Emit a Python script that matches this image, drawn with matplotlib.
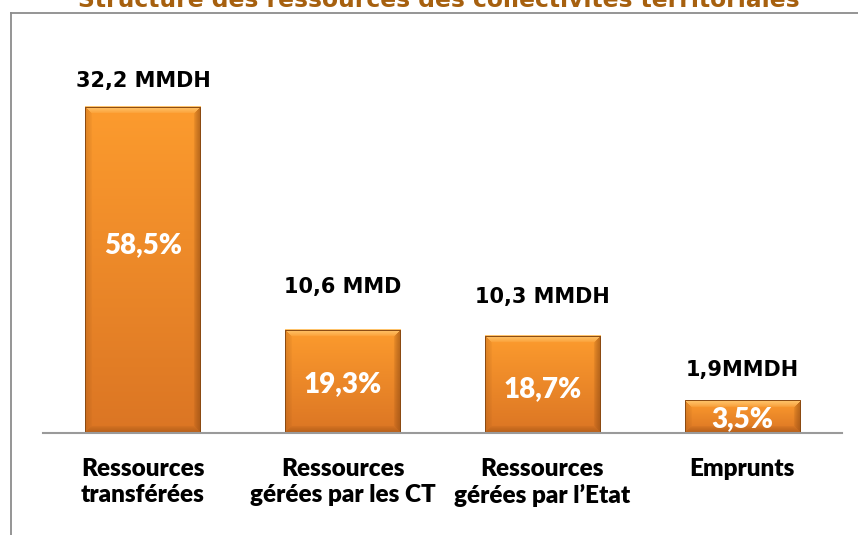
import numpy as np
import matplotlib
matplotlib.use("Agg")
import matplotlib.pyplot as plt
from matplotlib.lines import Line2D

# data
categories = ["Ressources\ntransférées", "Ressources\ngérées par les CT",
              "Ressources\ngérées par l\u2019Etat", "Emprunts"]
percent_labels = ["58,5%", "19,3%", "18,7%", "3,5%"]
amount_labels = ["32,2 MMDH", "10,6 MMD", "10,3 MMDH", "1,9MMDH"]
# bar heights as drawn (percent scale)
bar_heights = [58.5, 18.5, 17.4, 5.9]

title = "Structure des ressources des collectivités territoriales"

# label placement tweaks (pixels)
amount_gap_px = [20, 37, 33, 24]
percent_shift_px = [25, -3, -5, -3]

W, H = 858, 535
fig = plt.figure(figsize=(W / 100, H / 100), dpi=100)
ax = fig.add_axes([43 / W, (H - 433) / H, 799 / W, (433 - 60) / H])
ax.set_xlim(-0.5, 3.5)
ax.set_ylim(0, 66.9)
ax.set_autoscale_on(False)

x = np.arange(len(categories))
bars = ax.bar(x, bar_heights, width=0.576, color="none", edgecolor="none")

top_c = np.array([0.99, 0.61, 0.18])
bot_c = np.array([0.86, 0.46, 0.14])
light = np.array([1.0, 0.82, 0.50])
dark = np.array([0.55, 0.28, 0.06])

for rect in bars:
    x0, w, h = rect.get_x(), rect.get_width(), rect.get_height()
    p0 = ax.transData.transform((x0, 0))
    p1 = ax.transData.transform((x0 + w, h))
    wp, hp = int(round(p1[0] - p0[0])), int(round(p1[1] - p0[1]))
    yy, xx = np.mgrid[0:hp, 0:wp]
    t = (yy / max(hp - 1, 1))[..., None]
    img = top_c * (1 - t) + bot_c * t
    b = 7.0
    dist = np.stack([yy, hp - 1 - yy, xx, wp - 1 - xx])
    m = dist.min(axis=0)
    side = dist.argmin(axis=0)
    k = np.clip(1 - m / b, 0, 1)[..., None] ** 0.7
    amt = np.zeros((hp, wp, 1))
    tgt = np.zeros((hp, wp, 3))
    for s, (col, a) in enumerate([(light, 0.75), (dark, 0.45), (dark, 0.25), (dark, 0.6)]):
        sel = (side == s)[..., None]
        amt = np.where(sel, a * k, amt)
        tgt = np.where(sel, col, tgt)
    img = img * (1 - amt) + tgt * amt
    ax.imshow(img, extent=(x0, x0 + w, 0, h), aspect="auto", origin="upper",
              interpolation="bilinear", zorder=2)
    ax.add_patch(plt.Rectangle((x0, 0), w, h, fill=False, edgecolor="#8a4a12",
                               linewidth=0.7, zorder=3))

for i, rect in enumerate(bars):
    cx = rect.get_x() + rect.get_width() / 2
    h = rect.get_height()
    ax.annotate(amount_labels[i], (cx, h), xytext=(0, amount_gap_px[i] * 0.72),
                textcoords="offset points", ha="center", va="baseline",
                fontsize=15, fontweight="bold", family="DejaVu Sans", color="black")
    ax.annotate(percent_labels[i], (cx, h / 2), xytext=(0, percent_shift_px[i] * 0.72),
                textcoords="offset points", ha="center", va="center",
                fontsize=20, fontweight="heavy", family="Lato", color="white", zorder=4)

for s in ["top", "left", "right"]:
    ax.spines[s].set_visible(False)
ax.spines["bottom"].set_color("#9a9a9a")
ax.spines["bottom"].set_linewidth(1.5)
ax.spines["bottom"].set_zorder(5)
ax.set_yticks([])
ax.set_xticks(x)
ax.set_xticklabels(categories, fontsize=17.5, fontweight="heavy", family="Lato",
                   linespacing=1.2)
ax.tick_params(axis="x", length=0, pad=18)

# outer frame (only top and left visible in the crop)
fig.add_artist(Line2D([10.5 / W, 10.5 / W], [(H - 12.5) / H, 0], transform=fig.transFigure,
                      color="#8c8c8c", linewidth=1.3))
fig.add_artist(Line2D([10.5 / W, 1], [(H - 12.5) / H, (H - 12.5) / H], transform=fig.transFigure,
                      color="#8c8c8c", linewidth=1.3))

fig.text(439 / W, (H - 7) / H, title, ha="center", va="baseline", fontsize=16.8,
         fontweight="bold", family="DejaVu Sans", color="#a6600f")

fig.savefig("out.png", dpi=100)
